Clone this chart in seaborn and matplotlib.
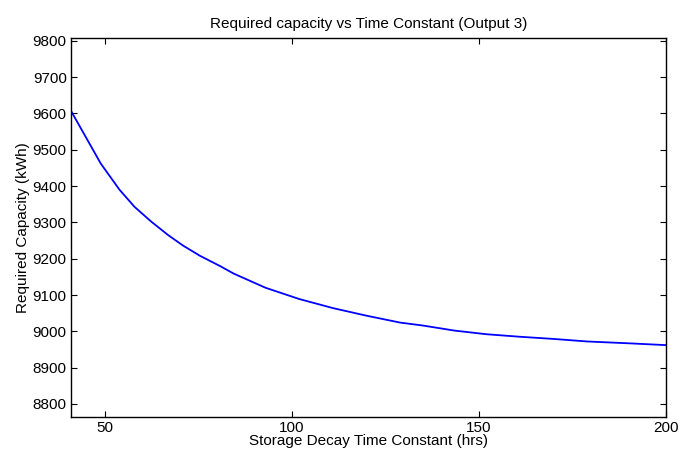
import matplotlib
matplotlib.use("Agg")
import matplotlib.pyplot as plt
import seaborn as sns
import pandas as pd

time_constant = [41, 45, 49, 54, 58, 62.5, 67, 71, 75.5, 81, 84.5, 93, 102, 111,
                 120, 129, 135, 143.5, 152, 161, 170, 179, 190, 200]
required_capacity = [9608, 9535, 9462, 9390, 9343, 9302, 9265, 9236, 9208, 9179,
                     9159, 9120, 9089, 9064, 9043, 9024, 9016, 9002, 8992, 8985,
                     8979, 8972, 8967, 8962]
x_ticks = [50, 100, 150, 200]
y_ticks = [8800, 8900, 9000, 9100, 9200, 9300, 9400, 9500, 9600, 9700, 9800]

sns.set_theme(style="white")
plt.rcParams['font.family'] = ['Liberation Sans', 'DejaVu Sans']
plt.rcParams['text.color'] = 'black'
plt.rcParams['axes.labelcolor'] = 'black'

df = pd.DataFrame({"x": time_constant, "y": required_capacity})

fig = plt.figure(figsize=(6.81, 4.57), dpi=100)
ax = fig.add_axes([0.104, 0.0875, 0.874, 0.8295])
sns.lineplot(data=df, x="x", y="y", ax=ax, color=(0, 0, 1), linewidth=1.3)

ax.set_xlim(41, 200)
ax.set_ylim(8764, 9808)
ax.set_xticks(x_ticks)
ax.set_yticks(y_ticks)
ax.tick_params(direction="in", length=4, width=0.8, top=True, right=True,
               labelsize=11, colors="black", pad=3,
               bottom=True, left=True)
for s in ax.spines.values():
    s.set_visible(True)
    s.set_color("black")
    s.set_linewidth(1.0)

ax.set_title("Required capacity vs Time Constant (Output 3)", fontsize=11,
             pad=7, color="black")
ax.set_xlabel("Storage Decay Time Constant (hrs)", fontsize=11, labelpad=-1,
              color="black")
ax.set_ylabel("Required Capacity (kWh)", fontsize=11, labelpad=2, color="black")

fig.savefig("out.png", dpi=100)
